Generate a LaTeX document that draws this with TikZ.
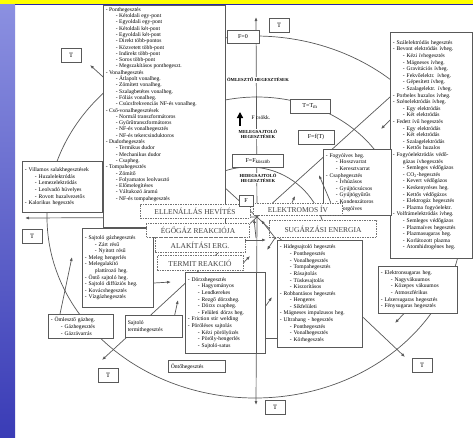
\documentclass[tikz,border=0pt]{standalone}
\usepackage{fontspec}
\setmainfont{Liberation Serif}
\usetikzlibrary{arrows.meta,positioning,calc}
\definecolor{stripTop}{RGB}{140,145,225}
\definecolor{stripBot}{RGB}{58,60,182}
\definecolor{bandY}{RGB}{255,255,0}
\definecolor{bandB}{RGB}{40,40,170}
\newcommand{\sbi}{\hspace*{1.8em}}
\tikzset{
  lbox/.style={draw=black!65, line width=0.7pt, fill=white, inner xsep=2.5pt, inner ysep=2pt,
    align=left, anchor=north west, font=\fontsize{5.6}{6.6}\selectfont},
  ltxt/.style={lbox, draw=none, fill=none},
  tbox/.style={draw=black!65, line width=0.8pt, fill=white, minimum width=20pt,
    minimum height=14pt, inner sep=0pt, font=\fontsize{6.5}{6.5}\selectfont},
  fbox/.style={draw=black!65, line width=0.7pt, fill=white, inner sep=2pt,
    font=\fontsize{6}{6}\selectfont},
  ebox/.style={draw=black!55, dash pattern=on 1.5pt off 1pt, line width=0.6pt, fill=white,
    inner sep=1pt, font=\fontsize{7.5}{7.5}\selectfont, text=black!75},
  zone/.style={fill=white, inner sep=0.5pt, align=center,
    font=\bfseries\fontsize{4.6}{5.4}\selectfont},
  spoke/.style={draw=black!65, line width=0.7pt},
  arr/.style={-{Latex[length=4pt,width=3pt]}}
}
\begin{document}
\begin{tikzpicture}[x=1pt,y=-1pt]
\useasboundingbox (0,0) rectangle (473,437);
% background
\fill[white] (0,0) rectangle (473,437);
\shade[top color=stripTop, bottom color=stripBot] (0,0) rectangle (15,437);
\fill[bandY] (0,0) rectangle (473,4);
\fill[bandB] (15,4) rectangle (473,5.2);

\coordinate (C) at (257,217);
% rings
\draw[spoke] (255,217) ellipse [x radius=208, y radius=181];
\draw[spoke] (C) ++(-142,0) arc [start angle=180, end angle=360, x radius=142, y radius=120];
\draw[spoke] (249,244) ++(200:77) arc [start angle=200, end angle=350, radius=77];

% spokes to the T boxes
\foreach \n/\px/\py/\ex/\ey in {a/71/55/90/65, b/279/25/256/17, c/32/236/25/218,
    d/108/375/102/360, e/275/407/256/405, f/422/365/405/357}{
  \node[tbox] (t\n) at (\px,\py) {T};
  \draw[spoke, arr] (C) -- (\ex,\ey);
}
\draw[spoke] (C) -- (390,97);

% process boxes
\node[lbox, minimum width=122pt, minimum height=222pt] (pont) at (103,5) {};
\node[ltxt, font=\fontsize{5.6}{6.3}\selectfont] (ponttxt) at (pont.north west) {%
- Ponthegesztés\\
\sbi- Kétoldali egy-pont\\
\sbi- Egyoldali egy-pont\\
\sbi- Kétoldali két-pont\\
\sbi- Egyoldali két-pont\\
\sbi- Direkt több-pontos\\
\sbi- Közvetett több-pont\\
\sbi- Indirekt több-pont\\
\sbi- Soros több-pont\\
\sbi- Megszakításos ponthegeszt.\\
- Vonalhegesztés\\
\sbi- Átlapolt vonalheg.\\
\sbi- Zömített vonalheg.\\
\sbi- Szalagbetétes vonalheg.\\
\sbi- Fóliás vonalheg.\\
\sbi- Csúcsfrekvenciás NF-és vonalheg.\\
- Cső-vonalhegesztések\\
\sbi- Normál transzformátoros\\
\sbi- Gyűrűtranszformátoros\\
\sbi- NF-és vonalhegesztés\\
\sbi- NF-és tekercsinduktoros\\
- Dudorhegesztés\\
\sbi- Termikus dudor\\
\sbi- Mechanikus dudor\\
\sbi- Csapheg.\\
- Tompahegesztés\\
\sbi- Zömítő\\
\sbi- Folyamatos leolvasztó\\
\sbi- Előmelegítéses\\
\sbi- Váltakozó áramú\\
\sbi- NF-és tompahegesztés};

\node[lbox, text width=75pt, minimum height=51pt] (vill) at (22,161) {%
- Villamos salakhegesztések\\
\sbi- Huzalelektródás\\
\sbi- Lemezelektródás\\
\sbi- Leolvadó hüvelyes\\
\sbi- Rovott huzalvezetős\\
- Kalorikus hegesztés};

\node[lbox, text width=77pt, minimum height=226pt] (ivr) at (390,32) {%
- Szálelektródás hegesztés\\
- Bevont elektródás ívheg.\\
\sbi- Kézi ívhegesztés\\
\sbi- Mágneses ívheg.\\
\sbi- Gravitációs ívheg.\\
\sbi- Fekvőelektr. ívheg.\\
\sbi- Gépesített ívheg.\\
\sbi- Szalagelektr. ívheg.\\
- Porbeles huzalos ívheg.\\
- Szénelektródás ívheg.\\
\sbi- Egy elektródás\\
\sbi- Két elektródás\\
- Fedett ívű hegesztés\\
\sbi- Egy elektródás\\
\sbi- Két elektródás\\
\sbi- Szalagelektródás\\
\sbi- Kettős huzalos\\
- Fogyóelektródás védő-\\
\sbi gázas ívhegesztés\\
\sbi- Semleges védőgázos\\
\sbi- CO\textsubscript{2}-hegesztés\\
\sbi- Kevert védőgázos\\
\sbi- Keskenyréses heg.\\
\sbi- Kettős védőgázos\\
\sbi- Elektrogáz hegesztés\\
\sbi- Plazma fogyóelektr.\\
- Volfrámelektródás ívheg.\\
\sbi- Semleges védőgázos\\
\sbi- Plazmaíves hegesztés\\
\sbi- Plazmasugaras heg.\\
\sbi- Korlátozott plazma\\
\sbi- Atomhidrogénes heg.};

\node[lbox, text width=63pt, minimum height=66pt] (csap) at (323,149) {%
- Fogyóíves heg.\\
\sbi- Hosszvarrat\\
\sbi- Keresztvarrat\\
- Csaphegesztés\\
\sbi- Ívhúzásos\\
\sbi- Gyújtócsúcsos\\
\sbi- Gyújtógyűrűs\\
\sbi- Kondenzátoros\\
\sbi- Forgóíves};

\node[lbox, text width=74pt, minimum height=47pt] (elsug) at (378,266) {%
- Elektronsugaras heg.\\
\sbi- Nagyvákuumos\\
\sbi- Közepes vákuumos\\
\sbi- Atmoszférikus\\
- Lézersugaras hegesztés\\
- Fénysugaras hegesztés};

\node[lbox, text width=80pt, minimum height=107pt] (hideg) at (277,240) {%
- Hidegsajtoló hegesztés\\
\sbi- Ponthegesztés\\
\sbi- Vonalhegesztés\\
\sbi- Tompahegesztés\\
\sbi- Rásajtolás\\
\sbi- Tüskesajtolás\\
\sbi- Kiszorításos\\
- Robbantásos hegesztés\\
\sbi- Hengeres\\
\sbi- Síkfelületi\\
- Mágneses impulzusos heg.\\
- Ultrahang - hegesztés\\
\sbi- Ponthegesztés\\
\sbi- Vonalhegesztés\\
\sbi- Körhegesztés};

\node[lbox, text width=75pt, minimum height=81pt] (dorzs) at (185,272) {%
- Dörzshegesztés\\
\sbi- Hagyományos\\
\sbi- Lendkerekes\\
\sbi- Rezgő dörzsheg.\\
\sbi- Dörzs csapheg.\\
\sbi- Felületi dörzs heg.\\
- Friction stir welding\\
- Pöröléses sajtolás\\
\sbi- Kézi pörölyözés\\
\sbi- Pöröly-hengerlés\\
\sbi- Sajtoló-satus};

\node[lbox, text width=66pt, minimum height=79pt] (sgaz) at (82,228) {%
- Sajtoló gázhegesztés\\
\sbi- Zárt résű\\
\sbi- Nyitott résű\\
- Meleg hengerlés\\
- Melegalakító\\
\sbi plattírozó heg.\\
- Öntő sajtoló heg.\\
- Sajtoló diffúziós heg.\\
- Kovácshegesztés\\
- Vízgázhegesztés};

\node[lbox, text width=60pt, minimum height=24pt] (omgaz) at (48,314) {%
- Ömlesztő gázheg.\\
\sbi- Gázhegesztés\\
\sbi- Gázrávarrás};

\node[lbox, text width=52pt, minimum height=22pt] (stermit) at (125,315) {%
Sajtoló\\ termithegesztés};

\node[lbox, text width=52pt, minimum height=12pt] (onto) at (168,360) {Öntőhegesztés};

% energy sources
\node[ebox, minimum width=110pt, minimum height=14pt] (ell) at (195,211) {ELLENÁLLÁS HEVÍTÉS};
\node[ebox, minimum width=103pt, minimum height=14pt] (ego) at (198,230) {ÉGŐGÁZ REAKCIÓJA};
\node[ebox, minimum width=90pt, minimum height=15pt] (ala) at (200,245) {ALAKÍTÁSI ERG.};
\node[ebox, minimum width=86pt, minimum height=15pt] (ter) at (200,263) {TERMIT REAKCIÓ};
\node[ebox, minimum width=89pt, minimum height=12pt] (elk) at (298,209) {ELEKTROMOS ÍV};
\node[ebox, minimum width=107pt, minimum height=17pt] (sug) at (323,229) {SUGÁRZÁSI ENERGIA};

% zones and force labels
\node[fbox, minimum width=32pt, minimum height=13pt] (f0) at (243,37) {F=0};
\node[zone] (oml) at (258,80) {ÖMLESZTŐ HEGESZTÉSEK};
\node[fbox, minimum width=40pt, minimum height=14pt] (ttm) at (310,106) {T=T\textsubscript{m}};
\node[font=\fontsize{5.5}{5.5}\selectfont, anchor=west] (fcs) at (248,118) {F csökk.};
\draw[line width=1.3pt, -{Triangle[length=6pt,width=6pt]}] (240,126) -- (240,112);
\node[zone] (mel) at (258,134) {MELEGSAJTOLÓ\\HEGESZTÉSEK};
\node[fbox, minimum width=36pt, minimum height=14pt] (fft) at (316,137) {F=f(T)};
\node[fbox, minimum width=51pt, minimum height=13pt] (fk) at (258,161) {F=F\textsubscript{küszöb}};
\node[zone] (hid) at (258,178) {HIDEGSAJTOLÓ\\HEGESZTÉSEK};
\node[fbox, minimum width=14pt, minimum height=11pt, inner sep=0pt] (ff) at (246,201) {F};

% connectors from the energy sources
\draw[spoke, arr] (elk.north) ++(-6,0) -- (295,196);
\draw[spoke, arr] (elk.north east) ++(-12,0) -- (319,175);
\draw[spoke, arr] (ivr.west |- 0,120) -- (381,129);
\draw[spoke, arr] (ala.east) ++(0,-5) -- (266,240);
\draw[spoke, arr] (sug.south west) ++(6,0) -- (267,250);
\draw[spoke, arr] (ter.east) -- (250,256);
\draw[spoke, arr] (256,238) -- (254,219);
\draw[spoke, arr] (276,239) -- (261,220);
\draw[spoke, arr] (sgaz.east |- 0,283) -- (171,282);
\draw[spoke, arr] (stermit.north east) ++(-8,0) -- (178,300);
\draw[spoke, arr] (dorzs.east |- 0,306) -- (272,297);
\draw[spoke, arr] (omgaz.north west) ++(12,0) -- (72,257);
\draw[spoke, arr] (elsug.south) ++(-14,0) -- (395,323);
\draw[spoke] (dorzs.east |- 0,338) -- (hideg.west |- 0,338);
% axis through the friction box
\draw[spoke] (256,272) -- (256,353);
\end{tikzpicture}
\end{document}
